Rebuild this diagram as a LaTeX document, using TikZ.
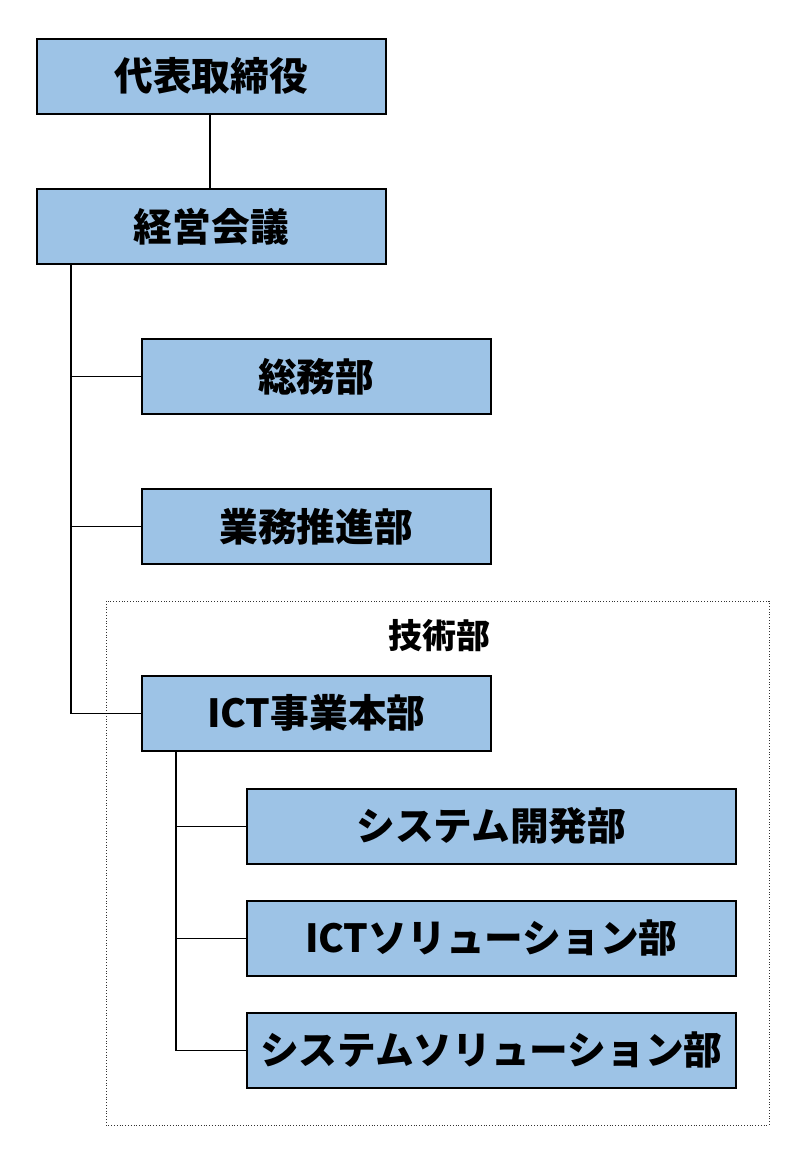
\documentclass[tikz,border=0pt]{standalone}
\usepackage{fontspec}
\newfontfamily\cjk{Noto Sans CJK JP}
\begin{document}
\begin{tikzpicture}[x=1pt,y=-1pt,
  orgbox/.style={draw=black, line width=1.6pt, fill=boxblue, minimum width=349pt, minimum height=75pt, inner sep=0pt, font=\cjk\bfseries\fontsize{38.7}{42}\selectfont, anchor=north west},
  subbox/.style={orgbox, minimum width=489pt},
  conn/.style={draw=black, line width=1.3pt}]
\definecolor{boxblue}{HTML}{9DC3E6}
\useasboundingbox (0,0) rectangle (806,1164);
\draw[dotted, line width=0.8pt, draw=black!80] (106,601) rectangle (769,1125);
\node[font=\cjk\bfseries\fontsize{34}{38}\selectfont] (gijutsu) at (439,636) {技術部};
\node[orgbox] (ceo) at (36,38) {代表取締役};
\node[orgbox] (keiei) at (36,188) {経営会議};
\node[orgbox] (somu) at (141,338) {総務部};
\node[orgbox] (gyomu) at (141,488) {業務推進部};
\node[orgbox] (ict) at (141,675) {ICT事業本部};
\node[subbox] (sysdev) at (246,788) {システム開発部};
\node[subbox] (ictsol) at (246,900) {ICTソリューション部};
\node[subbox] (syssol) at (246,1012) {システムソリューション部};
\coordinate (k) at (71,263);
\coordinate (i) at (176,750);
\draw[conn] (ceo.south -| 210,0) -- (keiei.north -| 210,0);
\draw[conn] (k) |- (ict.west);
\draw[conn] (k |- somu.west) -- (somu.west);
\draw[conn] (k |- gyomu.west) -- (gyomu.west);
\draw[conn] (i) |- (syssol.west);
\draw[conn] (i |- sysdev.west) -- (sysdev.west);
\draw[conn] (i |- ictsol.west) -- (ictsol.west);
\end{tikzpicture}
\end{document}
